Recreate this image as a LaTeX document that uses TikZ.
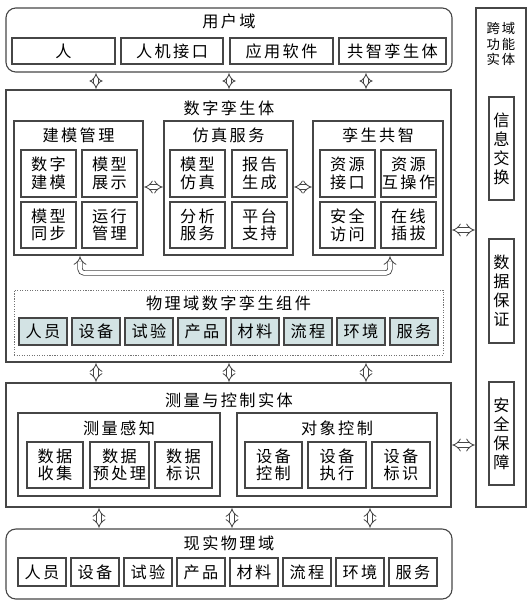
\documentclass[tikz,border=0pt]{standalone}
\usepackage{fontspec}
\setmainfont[LetterSpace=15]{Noto Sans CJK SC}
\usetikzlibrary{arrows.meta}

\definecolor{bleugris}{RGB}{211,227,228}
\definecolor{trait}{RGB}{70,70,70}

\tikzstyle{couche}=[draw=trait, rectangle, line width=0.8pt, inner sep=0pt]
\tikzstyle{groupe}=[draw=trait, rectangle, line width=0.8pt, inner sep=0pt]
\tikzstyle{case}=[draw=trait, rectangle, line width=0.8pt, inner sep=0pt, align=center]
\tikzstyle{element}=[case, fill=bleugris]
\tikzstyle{titre}=[inner sep=0pt]
\tikzstyle{biarrow}=[draw=trait, double, double distance=2.6pt, line width=0.6pt, {Implies[length=3pt,width=7pt]}-{Implies[length=3pt,width=7pt]}, shorten <=0.5pt, shorten >=0.5pt]

\begin{document}
\begin{tikzpicture}[
        x=0.025cm, y=-0.025cm,
        wh/.style 2 args={minimum width=#1*0.025cm, minimum height=#2*0.025cm},
        every node/.style={font=\fontsize{11.5}{12.5}\selectfont}
    ]
    \useasboundingbox (0,0) rectangle (530,610);

    % couches principales
    \node[couche, rounded corners=7pt, wh={446}{64}] (yh) at (229,40) {};
    \node[couche, wh={445}{272}] (szls) at (228.5,226) {};
    \node[couche, wh={445}{124}] (clkz) at (228.5,445) {};
    \node[couche, rounded corners=7pt, wh={446}{70}] (xs) at (229,564) {};
    \node[couche, wh={50}{499}] (ky) at (501,257.5) {};

    \node[titre] at (229,21) {用户域};
    \node[titre] at (229,108) {数字孪生体};
    \node[titre] at (229,400) {测量与控制实体};
    \node[titre] at (229,543) {现实物理域};
    \node[titre, align=center, font=\fontsize{9.5}{10.8}\selectfont] at (501,44) {跨域\\功能\\实体};

    % 用户域
    \node[case, wh={103}{26}] (u1) at (63.5,51) {人};
    \node[case, wh={102}{26}] (u2) at (172,51) {人机接口};
    \node[case, wh={103}{26}] (u3) at (281.5,51) {应用软件};
    \node[case, wh={107}{26}] (u4) at (392.5,51) {共智孪生体};

    % 跨域功能实体
    \node[case, wh={25}{103}, font=\fontsize{11.5}{13.5}\selectfont] (xx) at (501.5,148.5) {信\\息\\交\\换};
    \node[case, wh={25}{104}, font=\fontsize{11.5}{13.5}\selectfont] (sj) at (501.5,291) {数\\据\\保\\证};
    \node[case, wh={25}{103}, font=\fontsize{11.5}{13.5}\selectfont] (aq) at (501.5,433.5) {安\\全\\保\\障};

    % 数字孪生体
    \node[groupe, wh={129}{134}] (jm) at (78.5,188) {};
    \node[groupe, wh={129}{134}] (fz) at (228.5,188) {};
    \node[groupe, wh={130}{134}] (ls) at (378,188) {};
    \node[titre] at (78.5,135) {建模管理};
    \node[titre] at (228.5,135) {仿真服务};
    \node[titre] at (378,135) {孪生共智};

    \node[case, wh={55}{47}] (jm1) at (48.5,173.5) {数字\\建模};
    \node[case, wh={55}{47}] (jm2) at (109.5,173.5) {模型\\展示};
    \node[case, wh={55}{46}] (jm3) at (48.5,225) {模型\\同步};
    \node[case, wh={55}{46}] (jm4) at (109.5,225) {运行\\管理};
    \node[case, wh={55}{47}] (fz1) at (197.5,173.5) {模型\\仿真};
    \node[case, wh={55}{47}] (fz2) at (259.5,173.5) {报告\\生成};
    \node[case, wh={55}{46}] (fz3) at (197.5,225) {分析\\服务};
    \node[case, wh={55}{46}] (fz4) at (259.5,225) {平台\\支持};
    \node[case, wh={55}{47}] (ls1) at (347.5,173.5) {资源\\接口};
    \node[case, wh={55}{47}] (ls2) at (408.5,173.5) {资源\\互操作};
    \node[case, wh={55}{46}] (ls3) at (347.5,225) {安全\\访问};
    \node[case, wh={55}{46}] (ls4) at (408.5,225) {在线\\插拔};

    % 物理域数字孪生组件
    \node[groupe, densely dotted, draw=black!55, line width=0.7pt, wh={429}{65}] (wl) at (228.5,322.5) {};
    \node[titre] at (228.5,303) {物理域数字孪生组件};
    \foreach \t [count=\i from 0] in {人员,设备,试验,产品,材料,流程,环境,服务}
        \node[element, wh={48}{27}] (w\i) at ({43+53*\i},331.5) {\t};

    % 测量与控制实体
    \node[groupe, wh={202}{83}] (cl) at (119,454.5) {};
    \node[groupe, wh={200}{83}] (dx) at (337,454.5) {};
    \node[titre] at (119,428) {测量感知};
    \node[titre] at (337,428) {对象控制};
    \node[case, wh={56}{46}] (cl1) at (55,465) {数据\\收集};
    \node[case, wh={59}{46}] (cl2) at (119.5,465) {数据\\预处理};
    \node[case, wh={57}{46}] (cl3) at (183.5,465) {数据\\标识};
    \node[case, wh={57}{46}] (dx1) at (273.5,465) {设备\\控制};
    \node[case, wh={58}{46}] (dx2) at (337,465) {设备\\执行};
    \node[case, wh={58}{46}] (dx3) at (401,465) {设备\\标识};

    % 现实物理域
    \foreach \t [count=\i from 0] in {人员,设备,试验,产品,材料,流程,环境,服务}
        \node[case, wh={48}{28}] (x\i) at ({42+53*\i},572) {\t};

    % flèches
    \coordinate (a1) at (96,0);
    \coordinate (a2) at (229,0);
    \coordinate (a3) at (366,0);
    \coordinate (b1) at (99,0);
    \coordinate (b2) at (232,0);
    \coordinate (b3) at (370,0);
    \foreach \c in {a1,a2,a3} {
        \draw[biarrow] (yh.south -| \c) -- (szls.north -| \c);
        \draw[biarrow] (szls.south -| \c) -- (clkz.north -| \c);
    }
    \foreach \c in {b1,b2,b3}
        \draw[biarrow] (clkz.south -| \c) -- (xs.north -| \c);

    \draw[biarrow] (jm.east |- 0,187) -- (fz.west |- 0,187);
    \draw[biarrow] (fz.east |- 0,187) -- (ls.west |- 0,187);
    \draw[biarrow] (szls.east |- 0,230) -- (ky.west |- 0,230);
    \draw[biarrow] (clkz.east |- 0,445) -- (ky.west |- 0,445);

    \coordinate (g) at (80,0);
    \coordinate (d) at (390,0);
    \coordinate (bas) at (0,273);
    \draw[biarrow, rounded corners=3pt] (jm.south -| g) -- (g |- bas) -- (d |- bas) -- (ls.south -| d);

\end{tikzpicture}
\end{document}
